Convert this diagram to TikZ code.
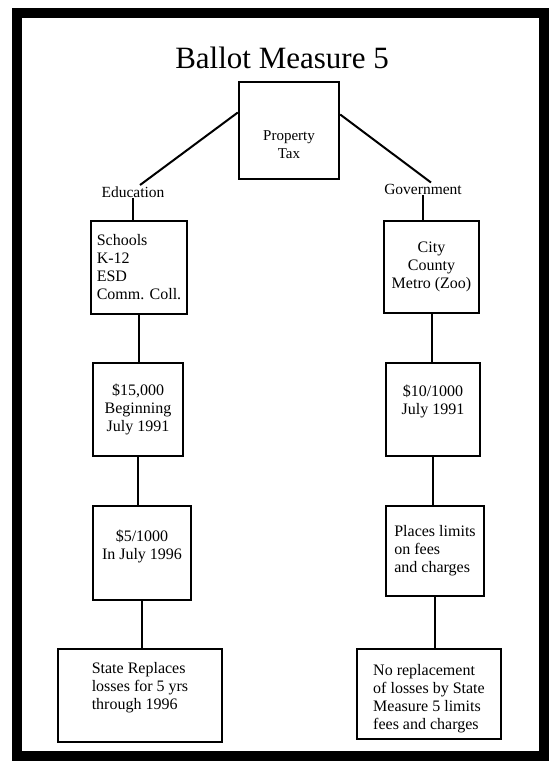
\documentclass[tikz,border=0pt]{standalone}
\usepackage{fontspec}
\setmainfont{Liberation Serif}
\usepackage{tikz}

\begin{document}
\begin{tikzpicture}[x=1pt, y=-1pt,
  box/.style={draw, line width=2.4pt, inner sep=0pt, font=\fontsize{16}{18}\selectfont},
  tag/.style={inner sep=1pt, font=\fontsize{15.5}{18}\selectfont},
  link/.style={line width=2pt}]
\useasboundingbox (0,0) rectangle (549,763);
% heavy frame round the sheet
\draw[line width=10pt] (17,12.5) rectangle (543.5,756);
\node[anchor=base, inner sep=0pt, font=\fontsize{31}{36}\selectfont] (title) at (282,68) {Ballot Measure 5};
% the tax and its two branches
\node[box, minimum width=100pt, minimum height=97pt, align=center, font=\fontsize{15}{17.5}\selectfont] (ptax) at (289,130.5)
  {\rule{0pt}{38pt}Property\\Tax};
\node[tag, anchor=base] (edu) at (133,197) {Education};
\node[tag, anchor=base] (gov) at (423,194) {Government};
% left column: education
\node[box, minimum width=96pt, minimum height=93pt, align=left] (schools) at (139,267.5)
  {Schools\\K-12\\ESD\\Comm. Coll.};
\node[box, minimum width=90pt, minimum height=93pt, align=center] (fifteen) at (138,409.5)
  {\$15,000\\Beginning\\July 1991};
\node[box, minimum width=98pt, minimum height=94pt, align=center] (fivek) at (142,553)
  {\$5/1000\\In July 1996\rule[-17pt]{0pt}{0pt}};
\node[box, minimum width=164pt, minimum height=93pt, align=left] (replaces) at (140,695.5)
  {State Replaces\\losses for 5 yrs\\through 1996\rule[-20pt]{0pt}{0pt}};
% right column: government
\node[box, minimum width=95pt, minimum height=92pt, align=center] (city) at (431.5,267)
  {City\\County\\Metro (Zoo)};
\node[box, minimum width=94pt, minimum height=93pt, align=center] (ten) at (433,409.5)
  {\$10/1000\\July 1991\rule[-19pt]{0pt}{0pt}};
\node[box, minimum width=98pt, minimum height=90pt, align=left] (places) at (435,551)
  {Places limits\\on fees\\and charges};
\node[box, minimum width=144pt, minimum height=90pt, align=left] (noreplace) at (429,694)
  {\rule{0pt}{20pt}No replacement\\of losses by State\\Measure 5 limits\\fees and charges};
% connectors
\draw[link] ([yshift=18pt]ptax.west) -- ([xshift=7pt]edu.north);
\draw[link] ([yshift=16pt]ptax.east) -- ([xshift=8pt]gov.north);
\draw[link] (edu.south) -- (edu.south |- schools.north);
\draw[link] (schools.south) -- (schools.south |- fifteen.north);
\draw[link] (fifteen.south) -- (fifteen.south |- fivek.north);
\draw[link] (fivek.south) -- (fivek.south |- replaces.north);
\draw[link] (gov.south) -- (gov.south |- city.north);
\draw[link] (city.south) -- (city.south |- ten.north);
\draw[link] (ten.south) -- (ten.south |- places.north);
\draw[link] (places.south) -- (places.south |- noreplace.north);
\end{tikzpicture}
\end{document}
